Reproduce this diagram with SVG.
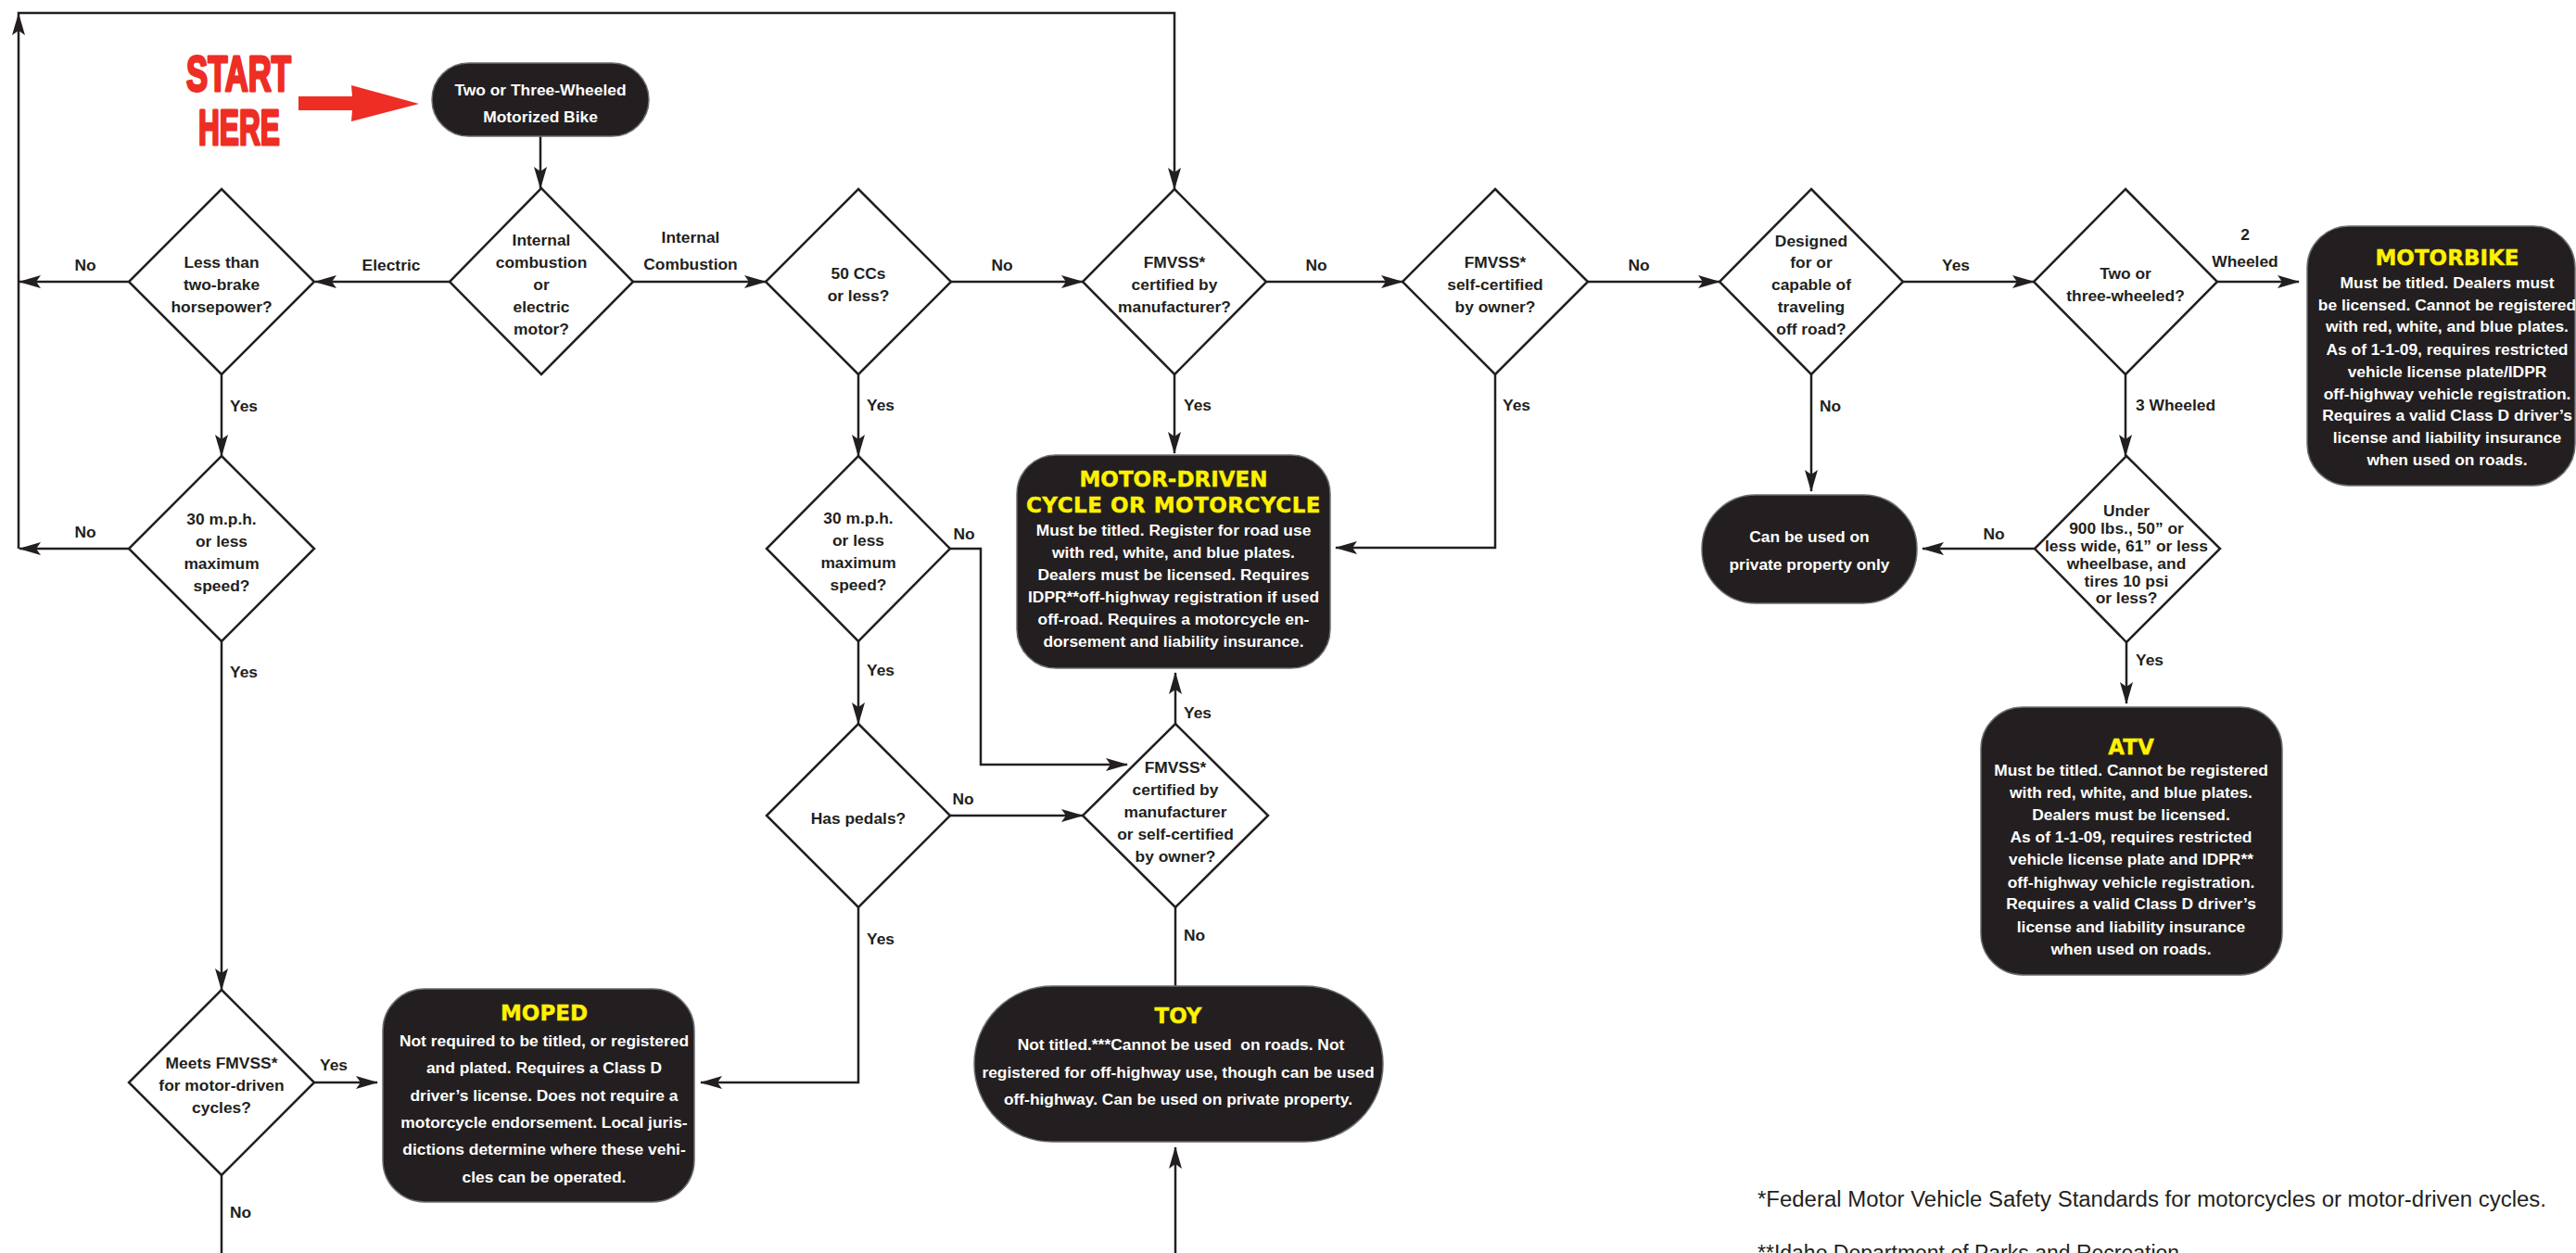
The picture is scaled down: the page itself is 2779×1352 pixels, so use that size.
<svg xmlns="http://www.w3.org/2000/svg" width="2779" height="1352" viewBox="0 0 2779 1352">
<style>
text{font-family:"Liberation Sans",Arial,sans-serif;font-weight:bold;font-size:17.4px;fill:#231F20;text-anchor:middle}
.s{text-anchor:start}
.dia{fill:#fff;stroke:#231F20;stroke-width:2.5;stroke-linejoin:miter}
.box{fill:#231F20;stroke:#6D6E71;stroke-width:1.5}
.w{fill:#fff}
.h{font-family:"DejaVu Sans",Verdana,sans-serif;font-weight:bold;font-size:23px;fill:#FFF200;stroke:#FFF200;stroke-width:0.4}
.c{fill:none;stroke:#231F20;stroke-width:2.5}
.c.a{marker-end:url(#arr)}
.red{fill:#EE2D24;stroke:#EE2D24;stroke-width:3;stroke-linejoin:round;font-family:"Liberation Sans Narrow","Liberation Sans",Arial,sans-serif;font-size:54px;text-anchor:start}
.fn{font-weight:normal;font-size:23px;text-anchor:start}
</style>
<defs>
<marker id="arr" markerUnits="userSpaceOnUse" viewBox="0 0 24 14" refX="23" refY="7" markerWidth="24" markerHeight="14" orient="auto">
<path d="M0,0 L24,7 L0,14 L5,7 z" fill="#231F20"/>
</marker>
</defs>
<rect width="2779" height="1352" fill="#fff"/>

<g id="start-here">
<text class="red" x="201" y="98" textLength="113" lengthAdjust="spacingAndGlyphs">START</text>
<text class="red" x="214" y="156" textLength="88" lengthAdjust="spacingAndGlyphs">HERE</text>
<polygon points="322,104 380,104 379,92 452,112 379,131 380,119 322,119" fill="#EE2D24"/>
</g>

<g id="connectors">
<path class="c a" d="M583,147 V203"/>
<path class="c a" d="M485,304 H340"/>
<path class="c a" d="M683,304 H826"/>
<path class="c a" d="M139,304 H21"/>
<path class="c a" d="M239,404 V492"/>
<path class="c a" d="M139,592 H21"/>
<path class="c a" d="M20,592 V15"/>
<path class="c a" d="M18.75,14 H1267 V204"/>
<path class="c a" d="M239,692 V1068"/>
<path class="c a" d="M339,1168 H407"/>
<path class="c" d="M239,1268 V1352"/>
<path class="c a" d="M1026,304 H1168"/>
<path class="c a" d="M1366,304 H1513"/>
<path class="c a" d="M1713,304 H1855"/>
<path class="c a" d="M926,404 V492"/>
<path class="c a" d="M1267,404 V489"/>
<path class="c a" d="M1613,404 V591 H1441"/>
<path class="c a" d="M1025,592 H1058 V825 H1216"/>
<path class="c a" d="M926,692 V781"/>
<path class="c a" d="M1025,880 H1168"/>
<path class="c a" d="M926,979 V1168 H756"/>
<path class="c a" d="M1268,781 V726"/>
<path class="c" d="M1268,979 V1064"/>
<path class="c a" d="M1268,1352 V1238"/>
<path class="c a" d="M2053,304 H2194"/>
<path class="c a" d="M1954,404 V530"/>
<path class="c a" d="M2392,304 H2480"/>
<path class="c a" d="M2293,404 V492"/>
<path class="c a" d="M2195,592 H2074"/>
<path class="c a" d="M2294,693 V759"/>
<text x="422" y="292">Electric</text>
<text x="745" y="262">Internal</text>
<text x="745" y="291">Combustion</text>
<text x="92" y="292">No</text>
<text class="s" x="248" y="444">Yes</text>
<text x="92" y="580">No</text>
<text class="s" x="248" y="731">Yes</text>
<text x="360" y="1155">Yes</text>
<text class="s" x="248" y="1314">No</text>
<text x="1081" y="292">No</text>
<text x="1420" y="292">No</text>
<text x="1768" y="292">No</text>
<text class="s" x="935" y="443">Yes</text>
<text class="s" x="1277" y="443">Yes</text>
<text class="s" x="1621" y="443">Yes</text>
<text x="1040" y="582">No</text>
<text class="s" x="935" y="729">Yes</text>
<text x="1039" y="868">No</text>
<text class="s" x="935" y="1019">Yes</text>
<text class="s" x="1277" y="775">Yes</text>
<text class="s" x="1277" y="1015">No</text>
<text x="2110" y="292">Yes</text>
<text class="s" x="1963" y="444">No</text>
<text x="2422" y="259">2</text>
<text x="2422" y="288">Wheeled</text>
<text class="s" x="2304" y="443">3 Wheeled</text>
<text x="2151" y="582">No</text>
<text class="s" x="2304" y="718">Yes</text>
</g>

<g id="node-start">
<rect class="box" x="466" y="68" width="234" height="79" rx="39.5"/>
<text class="w" x="583" y="103">Two or Three-Wheeled</text>
<text class="w" x="583" y="132">Motorized Bike</text>
</g>

<g id="node-engine">
<polygon class="dia" points="584,203 683,304 584,404 485,304"/>
<text x="584"><tspan x="584" y="265">Internal</tspan><tspan x="584" y="289">combustion</tspan><tspan x="584" y="313">or</tspan><tspan x="584" y="337">electric</tspan><tspan x="584" y="361">motor?</tspan></text>
</g>

<g id="node-horsepower">
<polygon class="dia" points="239,204 339,304 239,404 139,304"/>
<text><tspan x="239" y="289">Less than</tspan><tspan x="239" y="313">two-brake</tspan><tspan x="239" y="337">horsepower?</tspan></text>
</g>

<g id="node-speed-electric">
<polygon class="dia" points="239,492 339,592 239,692 139,592"/>
<text><tspan x="239" y="566">30 m.p.h.</tspan><tspan x="239" y="590">or less</tspan><tspan x="239" y="614">maximum</tspan><tspan x="239" y="638">speed?</tspan></text>
</g>

<g id="node-meets-fmvss">
<polygon class="dia" points="239,1068 339,1168 239,1268 139,1168"/>
<text><tspan x="239" y="1153">Meets FMVSS*</tspan><tspan x="239" y="1177">for motor-driven</tspan><tspan x="239" y="1201">cycles?</tspan></text>
</g>

<g id="node-50cc">
<polygon class="dia" points="926,204 1026,304 926,404 826,304"/>
<text><tspan x="926" y="301">50 CCs</tspan><tspan x="926" y="325">or less?</tspan></text>
</g>

<g id="node-fmvss-manufacturer">
<polygon class="dia" points="1267,204 1366,304 1267,404 1168,304"/>
<text><tspan x="1267" y="289">FMVSS*</tspan><tspan x="1267" y="313">certified by</tspan><tspan x="1267" y="337">manufacturer?</tspan></text>
</g>

<g id="node-fmvss-owner">
<polygon class="dia" points="1613,204 1713,304 1613,404 1513,304"/>
<text><tspan x="1613" y="289">FMVSS*</tspan><tspan x="1613" y="313">self-certified</tspan><tspan x="1613" y="337">by owner?</tspan></text>
</g>

<g id="node-offroad">
<polygon class="dia" points="1954,204 2053,304 1954,404 1855,304"/>
<text><tspan x="1954" y="266">Designed</tspan><tspan x="1954" y="289">for or</tspan><tspan x="1954" y="313">capable of</tspan><tspan x="1954" y="337">traveling</tspan><tspan x="1954" y="361">off road?</tspan></text>
</g>

<g id="node-wheels">
<polygon class="dia" points="2293,204 2392,304 2293,404 2194,304"/>
<text><tspan x="2293" y="301">Two or</tspan><tspan x="2293" y="325">three-wheeled?</tspan></text>
</g>

<g id="node-atv-size">
<polygon class="dia" points="2294,492 2395,592 2294,693 2195,592"/>
<text><tspan x="2294" y="557">Under</tspan><tspan x="2294" y="576">900 lbs., 50” or</tspan><tspan x="2294" y="595">less wide, 61” or less</tspan><tspan x="2294" y="614">wheelbase, and</tspan><tspan x="2294" y="633">tires 10 psi</tspan><tspan x="2294" y="651">or less?</tspan></text>
</g>

<g id="node-speed-ice">
<polygon class="dia" points="926,492 1025,592 926,692 827,592"/>
<text><tspan x="926" y="565">30 m.p.h.</tspan><tspan x="926" y="589">or less</tspan><tspan x="926" y="613">maximum</tspan><tspan x="926" y="637">speed?</tspan></text>
</g>

<g id="node-pedals">
<polygon class="dia" points="926,781 1025,880 926,979 827,880"/>
<text x="926" y="889">Has pedals?</text>
</g>

<g id="node-fmvss-either">
<polygon class="dia" points="1268,781 1368,880 1268,979 1168,880"/>
<text><tspan x="1268" y="834">FMVSS*</tspan><tspan x="1268" y="858">certified by</tspan><tspan x="1268" y="882">manufacturer</tspan><tspan x="1268" y="906">or self-certified</tspan><tspan x="1268" y="930">by owner?</tspan></text>
</g>

<g id="node-motorcycle">
<rect class="box" x="1097" y="491" width="338" height="230" rx="42"/>
<text class="h" x="1266" y="525">MOTOR-DRIVEN</text>
<text class="h" x="1266" y="553" letter-spacing="0.5">CYCLE OR MOTORCYCLE</text>
<text class="w"><tspan x="1266" y="578">Must be titled. Register for road use</tspan><tspan x="1266" y="602">with red, white, and blue plates.</tspan><tspan x="1266" y="626">Dealers must be licensed. Requires</tspan><tspan x="1266" y="650">IDPR**off-highway registration if used</tspan><tspan x="1266" y="674">off-road. Requires a motorcycle en-</tspan><tspan x="1266" y="698">dorsement and liability insurance.</tspan></text>
</g>

<g id="node-moped">
<rect class="box" x="413" y="1067" width="336" height="230" rx="45"/>
<text class="h" x="587" y="1101">MOPED</text>
<text class="w"><tspan x="587" y="1129">Not required to be titled, or registered</tspan><tspan x="587" y="1158">and plated. Requires a Class D</tspan><tspan x="587" y="1188">driver’s license. Does not require a</tspan><tspan x="587" y="1217">motorcycle endorsement. Local juris-</tspan><tspan x="587" y="1246">dictions determine where these vehi-</tspan><tspan x="587" y="1276">cles can be operated.</tspan></text>
</g>

<g id="node-toy">
<rect class="box" x="1051" y="1064" width="441" height="168" rx="84"/>
<text class="h" x="1271" y="1104">TOY</text>
<text class="w" xml:space="preserve"><tspan x="1274" y="1133">Not titled.***Cannot be used  on roads. Not</tspan><tspan x="1271" y="1163">registered for off-highway use, though can be used</tspan><tspan x="1271" y="1192">off-highway. Can be used on private property.</tspan></text>
</g>

<g id="node-private">
<rect class="box" x="1836" y="534" width="232" height="117" rx="58"/>
<text class="w"><tspan x="1952" y="585">Can be used on</tspan><tspan x="1952" y="615">private property only</tspan></text>
</g>

<g id="node-motorbike">
<rect class="box" x="2489" y="244" width="289" height="280" rx="45"/>
<text class="h" x="2640" y="286">MOTORBIKE</text>
<text class="w"><tspan x="2640" y="311">Must be titled. Dealers must</tspan><tspan x="2640" y="335">be licensed. Cannot be registered</tspan><tspan x="2640" y="358">with red, white, and blue plates.</tspan><tspan x="2640" y="383">As of 1-1-09, requires restricted</tspan><tspan x="2640" y="407">vehicle license plate/IDPR</tspan><tspan x="2640" y="431">off-highway vehicle registration.</tspan><tspan x="2640" y="454">Requires a valid Class D driver’s</tspan><tspan x="2640" y="478">license and liability insurance</tspan><tspan x="2640" y="502">when used on roads.</tspan></text>
</g>

<g id="node-atv">
<rect class="box" x="2137" y="763" width="325" height="289" rx="45"/>
<text class="h" x="2299" y="814">ATV</text>
<text class="w"><tspan x="2299" y="837">Must be titled. Cannot be registered</tspan><tspan x="2299" y="861">with red, white, and blue plates.</tspan><tspan x="2299" y="885">Dealers must be licensed.</tspan><tspan x="2299" y="909">As of 1-1-09, requires restricted</tspan><tspan x="2299" y="933">vehicle license plate and IDPR**</tspan><tspan x="2299" y="958">off-highway vehicle registration.</tspan><tspan x="2299" y="981">Requires a valid Class D driver’s</tspan><tspan x="2299" y="1006">license and liability insurance</tspan><tspan x="2299" y="1030">when used on roads.</tspan></text>
</g>

<g id="footnotes">
<text class="fn" x="1896" y="1302" textLength="851" lengthAdjust="spacingAndGlyphs">*Federal Motor Vehicle Safety Standards for motorcycles or motor-driven cycles.</text>
<text class="fn" x="1896" y="1360">**Idaho Department of Parks and Recreation</text>
</g>
</svg>
